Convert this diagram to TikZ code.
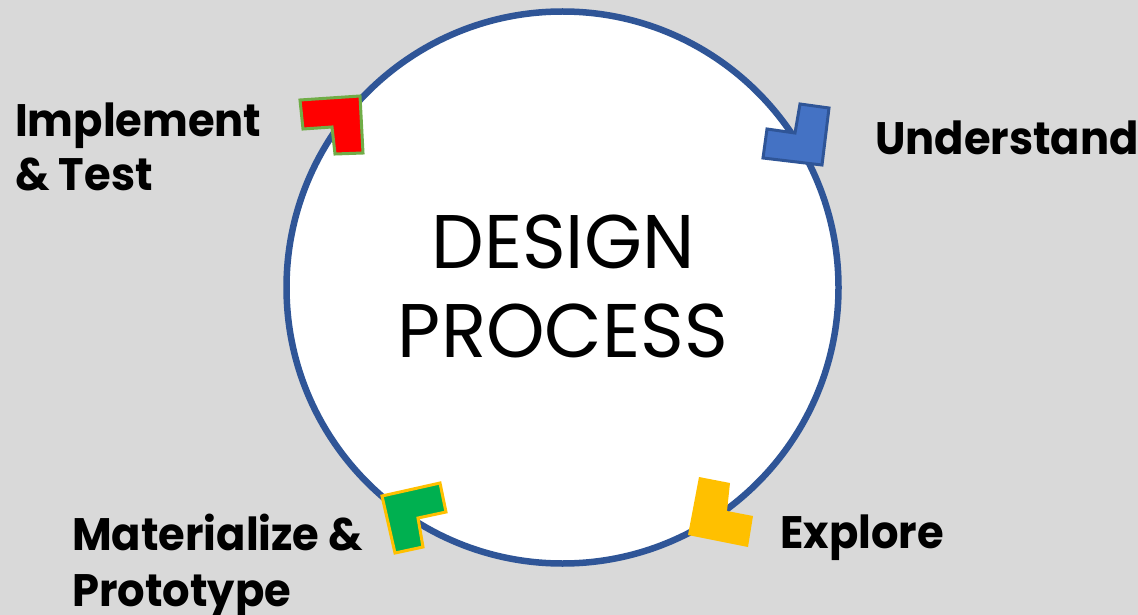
\documentclass[tikz,border=0pt]{standalone}
\usepackage{fontspec}
\newfontfamily\labfont{Poppins}[BoldFont={* Bold}, FakeStretch=0.95]
\newfontfamily\titfont{Poppins}[FakeStretch=0.98]
\definecolor{bg}{HTML}{D9D9D9}
\definecolor{ring}{HTML}{2F5597}
\definecolor{redL}{HTML}{FF0000}
\definecolor{redB}{HTML}{70AD47}
\definecolor{blueL}{HTML}{4472C4}
\definecolor{blueB}{HTML}{2F5597}
\definecolor{yelL}{HTML}{FFC000}
\definecolor{grnL}{HTML}{00B050}
\tikzset{
  lab/.style={anchor=base west, inner sep=0pt, font=\labfont\bfseries\fontsize{45.5}{46}\selectfont},
  tit/.style={anchor=base, inner sep=0pt, font=\titfont\fontsize{76}{76}\selectfont},
  lshape/.style={line width=3pt, line join=miter}
}
\begin{document}
\begin{tikzpicture}[x=1pt,y=-1pt]
\fill[bg] (0,0) rectangle (1138,615);
\useasboundingbox (0,0) rectangle (1138,615);
\node[circle, draw=ring, fill=white, line width=6.5pt, minimum size=552pt, inner sep=0pt] (ring) at (562.5,287.5) {};
\node[tit] (t1) at (563,268) {DESIGN};
\node[tit] (t2) at (563,357) {PROCESS};
% L markers
\filldraw[lshape, fill=redL, draw=redB] (300,100) -- (360,96) -- (363,153) -- (335,154) -- (332,127) -- (303,129) -- cycle;
\filldraw[lshape, fill=blueL, draw=blueB] (800,104) -- (829,108) -- (822,165) -- (763,158) -- (767,129) -- (795,133) -- cycle;
\fill[yelL] (699,477) -- (730,483) -- (727,511) -- (753,516) -- (748,547) -- (688,535) -- cycle;
\filldraw[lshape, fill=grnL, draw=yelL] (382,496) -- (440,483) -- (446,512) -- (418,518) -- (423,547) -- (395,553) -- cycle;
% labels
\node[lab] (impl1) at (15,137) {Implement};
\node[lab] (impl2) at (15,190) {\& Test};
\node[lab] (und) at (875,155) {Understand};
\node[lab] (exp) at (780,548) {Explore};
\node[lab] (mat1) at (72,550) {Materialize \&};
\node[lab] (mat2) at (72,606) {Prototype};
\end{tikzpicture}
\end{document}
